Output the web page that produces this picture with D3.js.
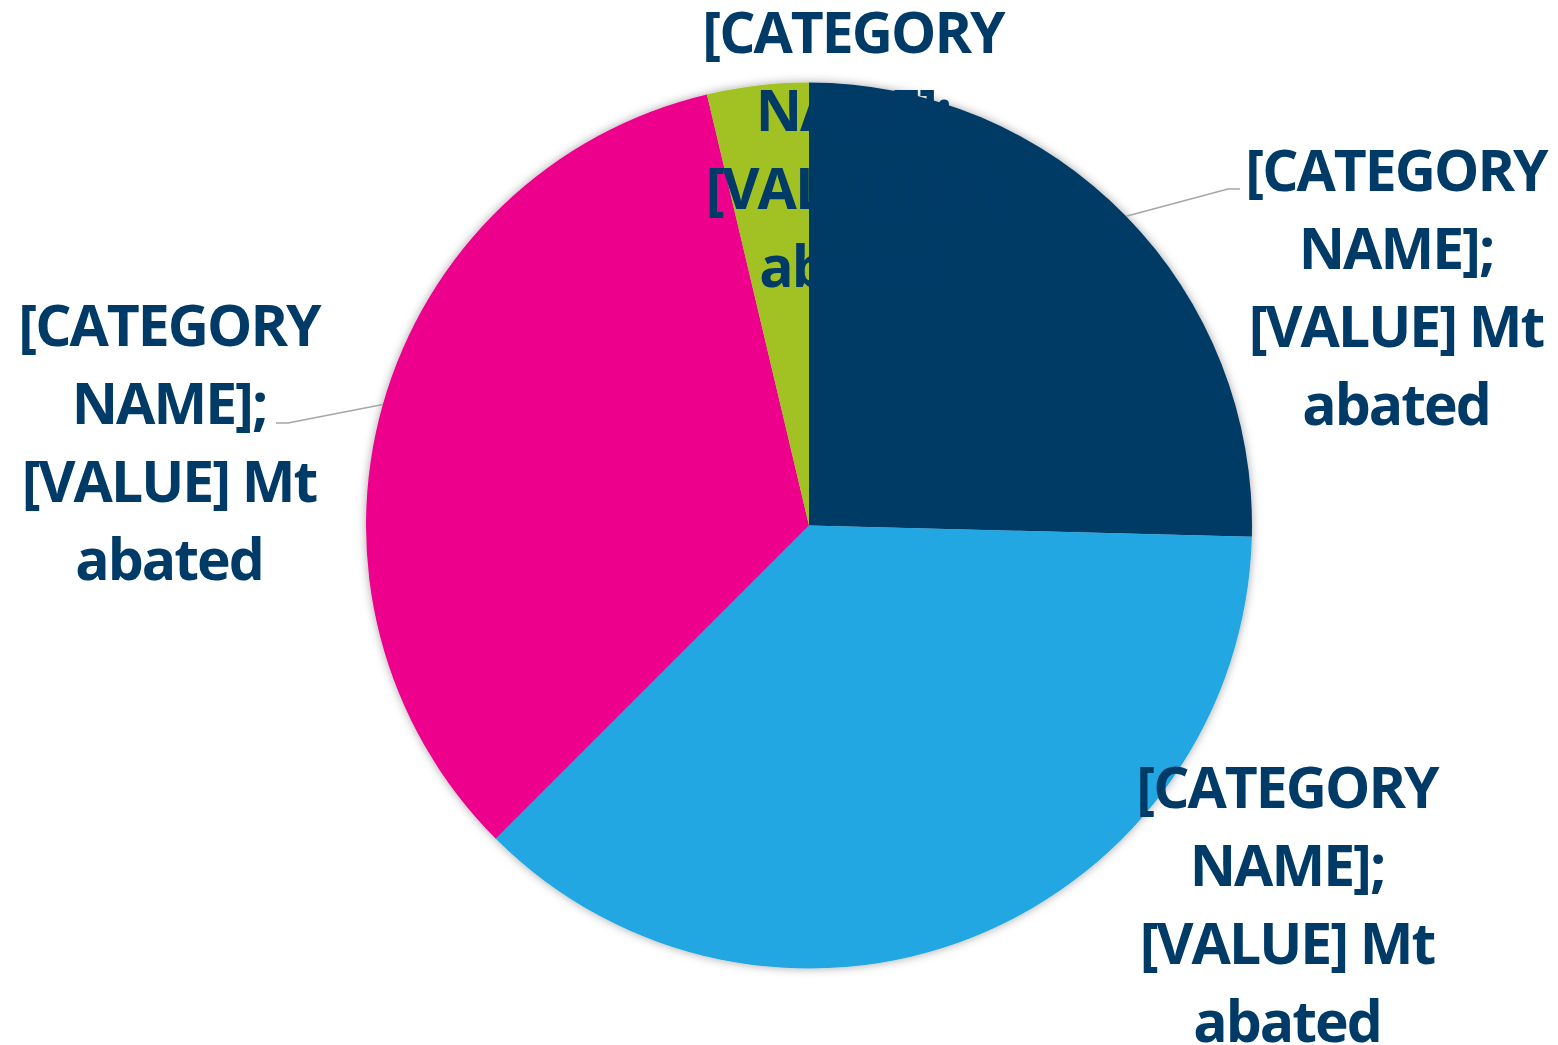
<!DOCTYPE html>
<html>
<head>
<meta charset="utf-8">
<script src="https://cdn.jsdelivr.net/npm/d3@7"></script>
<style>
  html, body { margin: 0; padding: 0; background: #fff; }
</style>
</head>
<body>
<div id="chart"></div>
<script>
// slice data (clockwise from 12 o'clock)
const categories = ["Category A", "Category B", "Category C", "Category D"];
const values = [25.4, 37.1, 33.8, 3.7];
const colors = ["#003a66", "#22a7e2", "#ec008c", "#a2c121"];
// label text, exactly as printed on the chart
const labelLines = ["[CATEGORY", "NAME];", "[VALUE] Mt", "abated"];

const width = 1558;
const height = 1045;
const cx = 809, cy = 525.5;
const radius = 443;

// where each label block sits (centre x, first baseline), and leader elbow
const labelPos = [
  { x: 1396, y: 191, elbow: [1228, 189], end: [1240, 189], leader: true },
  { x: 1287, y: 808, leader: false },
  { x: 169, y: 346, elbow: [288, 423], end: [276, 423], leader: true },
  { x: 853, y: 53, leader: false }
];
const lineHeight = 78;

const svg = d3.select("#chart").append("svg")
  .attr("width", width)
  .attr("height", height);

const defs = svg.append("defs");
const shadow = defs.append("filter")
  .attr("id", "pieShadow")
  .attr("x", "-10%").attr("y", "-10%")
  .attr("width", "120%").attr("height", "120%");
shadow.append("feDropShadow")
  .attr("dx", 0).attr("dy", 0)
  .attr("stdDeviation", 5)
  .attr("flood-color", "#000")
  .attr("flood-opacity", 0.35);

const g = svg.append("g").attr("transform", `translate(${cx},${cy})`);

const pie = d3.pie().sort(null).value(d => d);
const arcs = pie(values);

const arc = d3.arc().innerRadius(0).outerRadius(radius);
const edge = d3.arc().innerRadius(radius).outerRadius(radius);

g.append("g")
  .attr("filter", "url(#pieShadow)")
  .selectAll("path")
  .data(arcs)
  .enter().append("path")
  .attr("d", arc)
  .attr("fill", (d, i) => colors[i]);

// leader lines
arcs.forEach((d, i) => {
  const p = labelPos[i];
  if (!p.leader) return;
  const start = edge.centroid(d);
  const pts = [
    [start[0] + cx, start[1] + cy],
    p.elbow,
    p.end
  ];
  svg.append("path")
    .attr("d", d3.line()(pts))
    .attr("fill", "none")
    .attr("stroke", "#a6a6a6")
    .attr("stroke-width", 1.5);
});

// labels
arcs.forEach((d, i) => {
  const p = labelPos[i];
  const t = svg.append("text")
    .attr("text-anchor", "middle")
    .attr("font-family", "'Open Sans', sans-serif")
    .attr("font-weight", "bold")
    .attr("font-size", "57px")
    .attr("letter-spacing", "-2px")
    .attr("fill", "#003a66");
  labelLines.forEach((line, k) => {
    t.append("tspan")
      .attr("x", p.x)
      .attr("y", p.y + k * lineHeight)
      .text(line);
  });
});
</script>
</body>
</html>
